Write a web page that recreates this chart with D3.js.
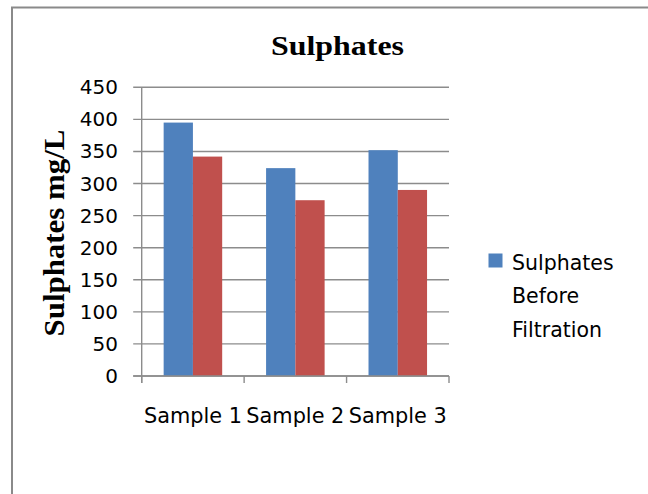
<!DOCTYPE html>
<html><head><meta charset="utf-8">
<script src="https://cdn.jsdelivr.net/npm/d3@7"></script>
<style>body{margin:0;background:#fff}svg{display:block}</style>
</head><body>
<svg id="c" width="648" height="494"></svg>
<script>
const categories = ["Sample 1", "Sample 2", "Sample 3"];
const seriesNames = ["Sulphates Before Filtration", "Sulphates After Filtration"];
const beforeValues = [395, 324, 352];
const afterValues = [342, 274, 290];
const yTicks = [0, 50, 100, 150, 200, 250, 300, 350, 400, 450];
const colors = ["#4F81BD", "#C0504D"];

const svg = d3.select("#c");
// outer frame
svg.append("rect").attr("x", 12).attr("y", 7.5).attr("width", 700).attr("height", 600)
  .attr("fill", "#fff").attr("stroke", "#8a8a8a").attr("stroke-width", 2);

const plotL = 141.7, plotR = 449, plotT = 87.3, plotB = 376;
const x = d3.scaleBand().domain(categories).range([plotL, plotR]);
const y = d3.scaleLinear().domain([0, 450]).range([plotB, plotT]);
const inner = d3.scaleBand().domain([0, 1]).range([0, x.bandwidth()]).paddingInner(0).paddingOuter(0.75);

const grid = "#8c8c8c";
// gridlines
svg.append("g").selectAll("line").data(yTicks).join("line")
  .attr("x1", plotL - 8.5).attr("x2", plotR).attr("y1", d => y(d)).attr("y2", d => y(d))
  .attr("stroke", grid).attr("stroke-width", 1.4);

// bars
const series = [beforeValues, afterValues];
series.forEach((vals, si) => {
  svg.append("g").selectAll("rect").data(vals).join("rect")
    .attr("x", (d, i) => x(categories[i]) + inner(si))
    .attr("width", inner.bandwidth())
    .attr("y", d => y(d)).attr("height", d => plotB - y(d))
    .attr("fill", colors[si]);
});

// y axis line
svg.append("line").attr("x1", plotL).attr("x2", plotL).attr("y1", plotT).attr("y2", plotB + 7)
  .attr("stroke", grid).attr("stroke-width", 1.4);
// x axis line
svg.append("line").attr("x1", plotL - 8.5).attr("x2", plotR).attr("y1", plotB).attr("y2", plotB)
  .attr("stroke", grid).attr("stroke-width", 1.4);
// category ticks
const bounds = categories.map(c => x(c)).concat([plotR]);
svg.append("g").selectAll("line").data(bounds).join("line")
  .attr("x1", d => d).attr("x2", d => d).attr("y1", plotB).attr("y2", plotB + 7)
  .attr("stroke", grid).attr("stroke-width", 1.4);

// y tick labels
svg.append("g").selectAll("text").data(yTicks).join("text")
  .attr("x", 118).attr("y", d => y(d) + 7)
  .attr("text-anchor", "end")
  .attr("font-family", "DejaVu Sans").attr("font-size", 20).attr("fill", "#000")
  .text(d => d);

// category labels
svg.append("g").selectAll("text").data(categories).join("text")
  .attr("x", d => x(d) + x.bandwidth() / 2).attr("y", 422.5)
  .attr("text-anchor", "middle")
  .attr("font-family", "DejaVu Sans").attr("font-size", 21).attr("fill", "#000")
  .attr("textLength", 98).attr("lengthAdjust", "spacingAndGlyphs")
  .text(d => d);

// title
svg.append("text").attr("x", 337.5).attr("y", 55)
  .attr("text-anchor", "middle")
  .attr("font-family", "Liberation Serif").attr("font-weight", "bold").attr("font-size", 28)
  .attr("textLength", 133).attr("lengthAdjust", "spacingAndGlyphs")
  .text("Sulphates");

// y axis title
svg.append("text").attr("transform", "translate(63.5,233) rotate(-90)")
  .attr("text-anchor", "middle")
  .attr("font-family", "Liberation Serif").attr("font-weight", "bold").attr("font-size", 29)
  .attr("textLength", 207).attr("lengthAdjust", "spacingAndGlyphs")
  .text("Sulphates mg/L");

// legend (only first series visible)
svg.append("rect").attr("x", 488.5).attr("y", 253.5).attr("width", 14).attr("height", 14)
  .attr("fill", colors[0]);
const legendLines = ["Sulphates", "Before", "Filtration"];
svg.append("g").selectAll("text").data(legendLines).join("text")
  .attr("x", 512).attr("y", (d, i) => 270 + i * 33.3)
  .attr("font-family", "DejaVu Sans").attr("font-size", 20.5).attr("fill", "#000")
  .text(d => d);
</script>
</body></html>
